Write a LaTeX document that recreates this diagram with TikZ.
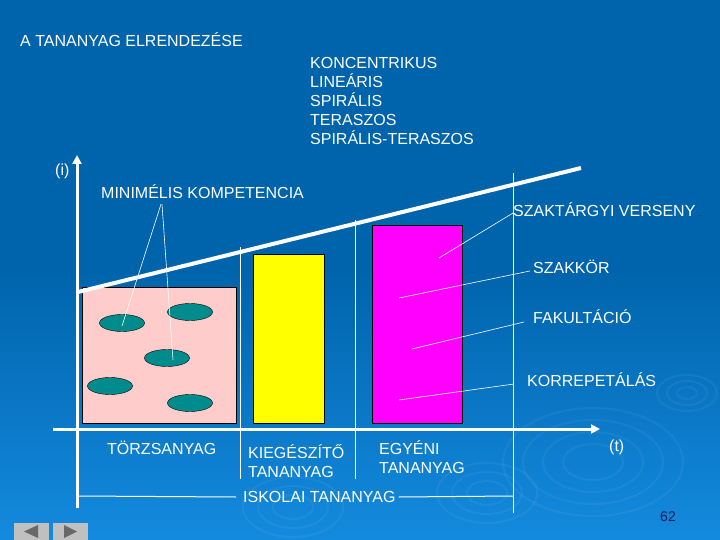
\documentclass[tikz,border=0pt]{standalone}
\usepackage{fontspec}
\setmainfont{Liberation Sans}
\usetikzlibrary{positioning, shapes, arrows.meta}
\definecolor{slidetop}{RGB}{0,100,172}
\definecolor{slidebottom}{RGB}{20,138,222}
\definecolor{pinkbox}{RGB}{255,204,204}
\definecolor{tealblob}{RGB}{0,140,140}
\definecolor{yellowbox}{RGB}{255,255,0}
\definecolor{magentabox}{RGB}{255,0,255}
\definecolor{pagenum}{RGB}{12,30,90}
\definecolor{navgrey}{RGB}{192,192,192}
\definecolor{navdark}{RGB}{104,104,104}

\tikzset{
	lbl/.style={text=white, font=\fontsize{16}{19}\selectfont, inner sep=0pt, anchor=west, align=left},
	blob/.style={ellipse, draw=black, fill=tealblob, minimum width=45pt, minimum height=17pt, inner sep=0pt},
	pointer/.style={white, line width=0.6pt},
	guide/.style={white, line width=1pt},
	axisline/.style={white, line width=3pt, -{Triangle[length=9pt,width=9pt]}},
	ripple/.style={white, opacity=0.05, line width=2pt}
}

\begin{document}
\begin{tikzpicture}[x=1pt, y=-1pt]
							\useasboundingbox (0,0) rectangle (720,540);
							\shade[top color=slidetop, bottom color=slidebottom, middle color=slidetop] (0,0) rectangle (720,540);
							% ripples in the background
							\foreach \r in {30,50,70,90} {
								\draw[ripple] (593,462) ellipse ({\r} and {0.6*\r});
							}
							\foreach \r in {20,35,50} {
								\draw[ripple] (487,493) ellipse ({\r} and {0.6*\r});
								\draw[ripple] (293,507) ellipse ({\r} and {0.6*\r});
							}
							\foreach \r in {10,20,30} {
								\draw[ripple] (687,393) ellipse ({\r} and {0.6*\r});
							}
							
							\node[lbl] (title) at (20,40) {A TANANYAG ELRENDEZÉSE};
							\node[lbl, anchor=north west] (kinds) at (310,57) {KONCENTRIKUS\\LINEÁRIS\\SPIRÁLIS\\TERASZOS\\SPIRÁLIS-TERASZOS};
							
							% boxes
							\draw[black, fill=pinkbox] (82,287) rectangle (236,423);
							\draw[black, fill=yellowbox] (253,254) rectangle (324,423);
							\draw[black, fill=magentabox] (372,225) rectangle (462,423);
							
							\node[blob] (e1) at (122,323) {};
							\node[blob] (e2) at (190,312) {};
							\node[blob] (e3) at (167,358) {};
							\node[blob] (e4) at (110,386) {};
							\node[blob] (e5) at (190,403) {};
							
							% thin guides
							\draw[guide] (240,247) -- (240,479);
							\draw[guide] (355,220) -- (355,479);
							\draw[guide] (513,173) -- (513,513);
							
							% axes and the rising line
							\draw[axisline] (77,508) -- (77,155);
							\draw[axisline] (53,429) -- (600,429);
							\draw[white, line width=4pt] (78,292) -- (581,168);
							\node[lbl] (ilabel) at (55,171) {(i)};
							\node[lbl] (tlabel) at (609,447) {(t)};
							
							\node[lbl] (minimal) at (101,192) {MINIMÉLIS KOMPETENCIA};
							\node[lbl] (verseny) at (513,210) {SZAKTÁRGYI VERSENY};
							\node[text=pagenum, font=\fontsize{6}{7}\selectfont, inner sep=0pt, anchor=base west] (dots) at ([xshift=2pt]verseny.base east) {\dots};
							\node[lbl] (szakkor) at (533,267) {SZAKKÖR};
							\node[lbl] (fakult) at (533,317) {FAKULTÁCIÓ};
							\node[lbl] (korrep) at (527,380) {KORREPETÁLÁS};
							
							\node[lbl] (torzs) at (107,448) {TÖRZSANYAG};
							\node[lbl] (kieg) at (248,461) {KIEGÉSZÍTŐ\\TANANYAG};
							\node[lbl] (egyeni) at (379,457) {EGYÉNI\\TANANYAG};
							\node[lbl] (iskolai) at (243,497) {ISKOLAI TANANYAG};
							\draw[guide] (77,496) -- ([xshift=-7pt]iskolai.west);
							\draw[guide] ([xshift=3pt]iskolai.east) -- (513,496);
							
							% pointers
							\coordinate (pv) at (439,258);
							\coordinate (pk) at (399,298);
							\coordinate (pf) at (412,349);
							\coordinate (pr) at (399,400);
							\draw[pointer] ([xshift=60pt,yshift=-5pt]minimal.south west) -- ([yshift=-3pt]e1.center);
							\draw[pointer] ([xshift=61pt,yshift=-5pt]minimal.south west) -- ([xshift=6pt,yshift=-2pt]e3.center);
							\draw[pointer] ([yshift=-3pt]verseny.west) -- (pv);
							\draw[pointer] ([xshift=-3pt,yshift=-4pt]szakkor.west) -- (pk);
							\draw[pointer] ([xshift=-9pt,yshift=-5pt]fakult.west) -- (pf);
							\draw[pointer] ([xshift=-13pt,yshift=-4pt]korrep.west) -- (pr);
							
							\node[text=pagenum, font=\fontsize{14}{16}\selectfont] (page) at (668,517) {62};
							
							% navigation buttons
							\fill[navgrey] (14,523) rectangle (49,540);
							\fill[navgrey] (53,523) rectangle (88,540);
							\fill[navdark] (24,531.5) -- (38,525) -- (38,538) -- cycle;
							\fill[navdark] (77,531.5) -- (64,525) -- (64,538) -- cycle;
\end{tikzpicture}
\end{document}
